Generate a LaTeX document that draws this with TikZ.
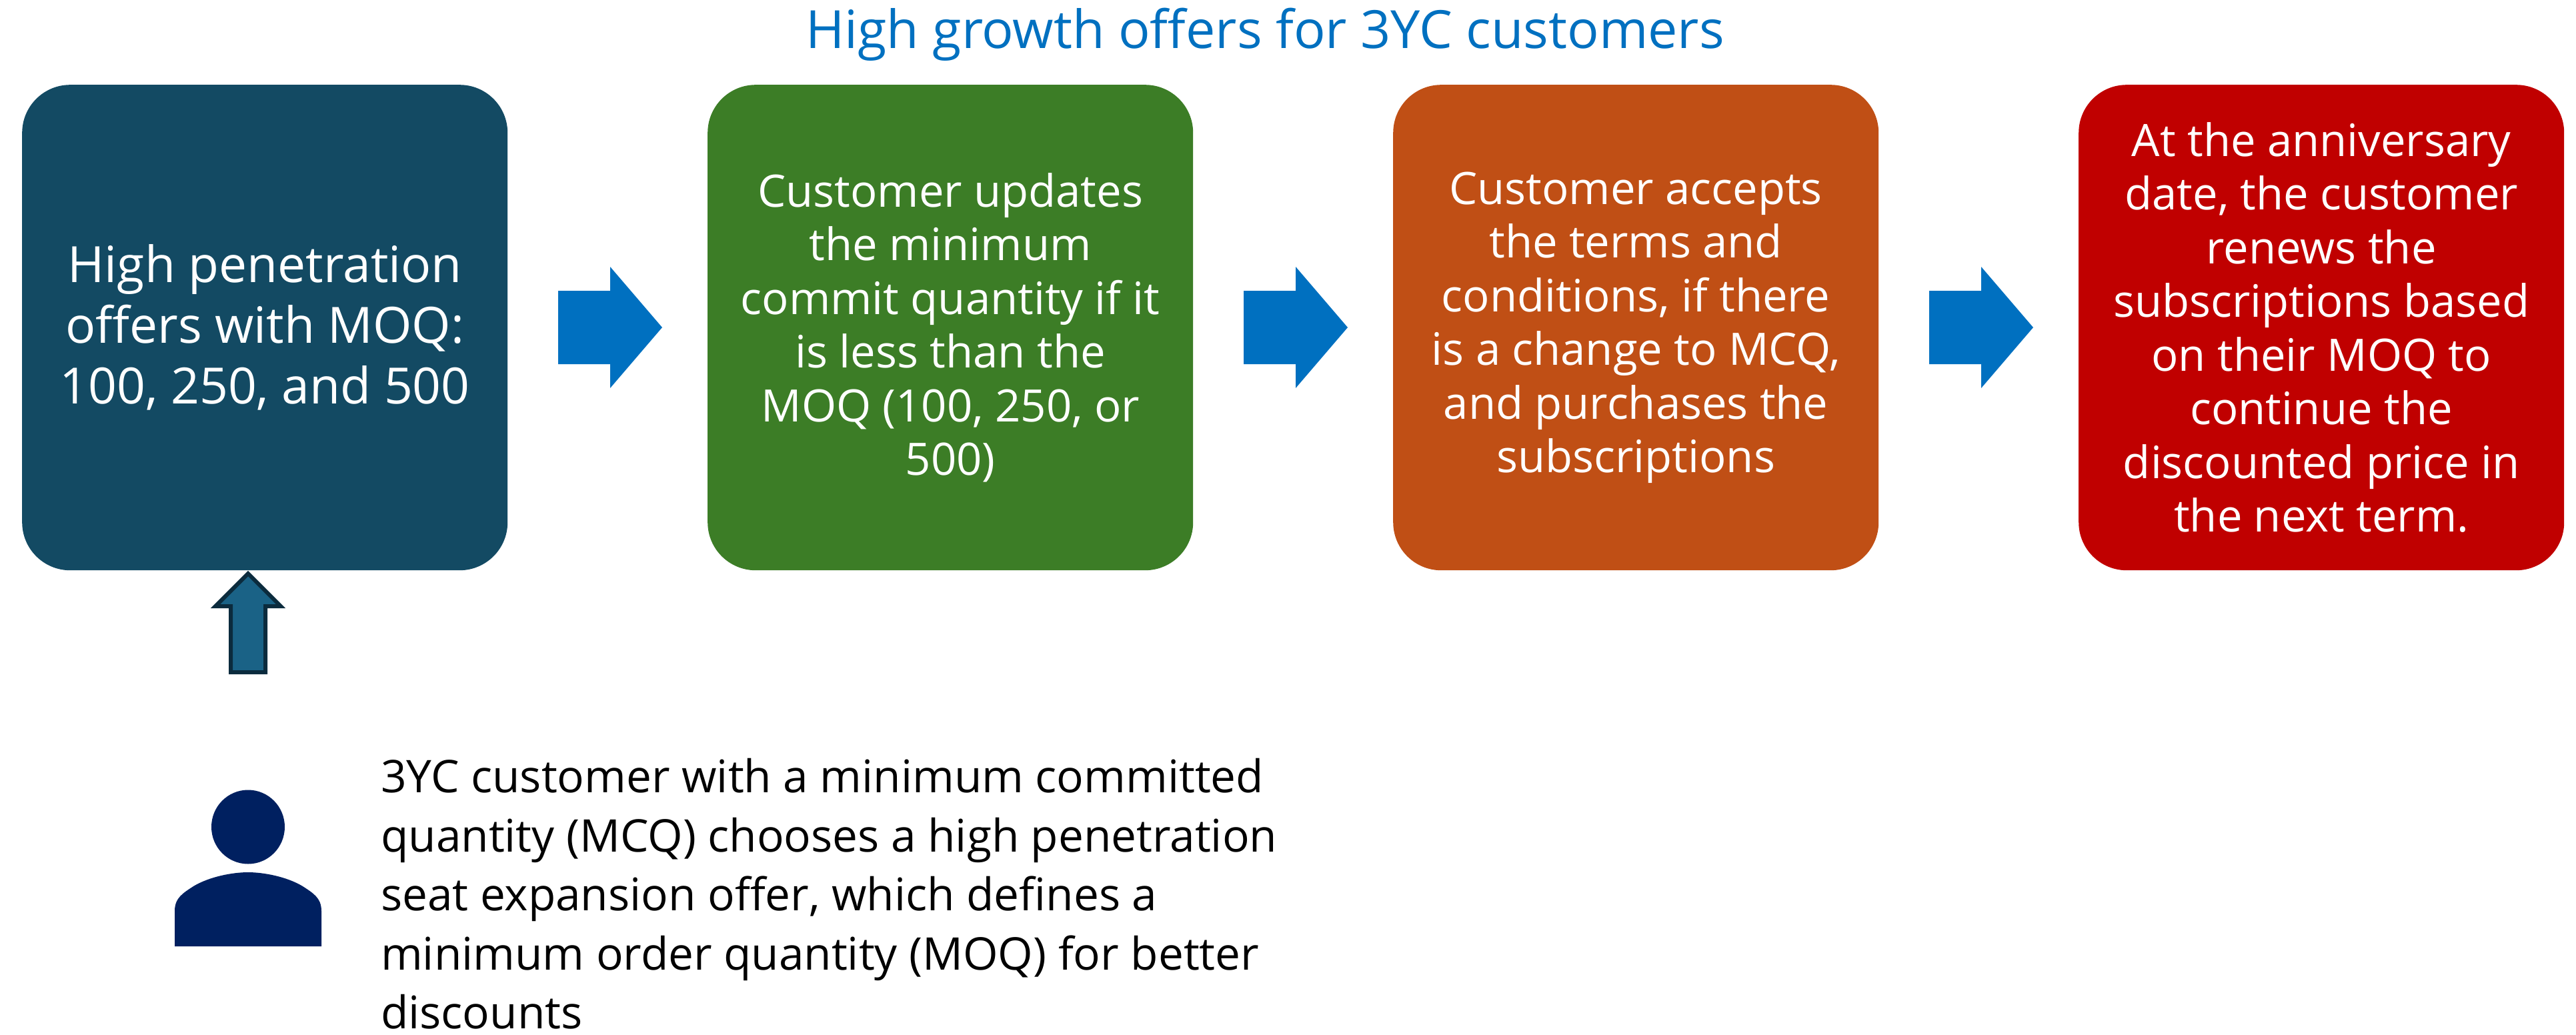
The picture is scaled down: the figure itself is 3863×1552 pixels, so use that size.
\documentclass[tikz,border=0pt]{standalone}
\usepackage{fontspec}
\setmainfont{Open Sans}
\definecolor{cbA}{HTML}{134A63}
\definecolor{cbB}{HTML}{3C7D26}
\definecolor{cbC}{HTML}{C04F15}
\definecolor{cbD}{HTML}{C00000}
\definecolor{cblue}{HTML}{0070C0}
\definecolor{cperson}{HTML}{002060}
\definecolor{cup}{HTML}{1A6286}
\definecolor{cupd}{HTML}{0B2B3D}
\tikzset{
  x=1pt,y=-1pt,
  stepbox/.style={rounded corners=72pt,minimum width=728pt,minimum height=728pt,inner sep=0pt,align=center,text=white,anchor=north west,font=\fontsize{67}{80.5}\selectfont},
  flowarrow/.style={fill=cblue,draw=none},
  uparrow/.style={fill=cup,draw=cupd,line width=6pt,miter limit=10},
}
\begin{document}
\begin{tikzpicture}
\useasboundingbox (0,0) rectangle (3863,1552);
\node[text=cblue,font=\fontsize{79}{90}\selectfont] (title) at (1897,52) {High growth offers for 3YC customers};
\node[stepbox,fill=cbA,font=\fontsize{75}{91}\selectfont] (a) at (33,127) {High penetration\\offers with MOQ:\\100, 250, and 500};
\node[stepbox,fill=cbB] (b) at (1061,127) {Customer updates\\the minimum\\commit quantity if it\\is less than the\\MOQ (100, 250, or\\500)};
\node[stepbox,fill=cbC] (c) at (2089,127) {Customer accepts\\the terms and\\conditions, if there\\is a change to MCQ,\\and purchases the\\subscriptions};
\node[stepbox,fill=cbD] (d) at (3117,127) {At the anniversary\\date, the customer\\renews the\\subscriptions based\\on their MOQ to\\continue the\\discounted price in\\the next term.};
\foreach \nm/\dx in {ab/0,bc/1028,cd/2056}{
  \fill[flowarrow,shift={(\dx,0)}] (837,436) -- (915,436) -- (915,400) -- (993,491) -- (915,582) -- (915,546) -- (837,546) -- cycle;
}
\draw[uparrow] (346,1008) -- (346,909) -- (323,909) -- (372,860) -- (421,909) -- (398,909) -- (398,1008) -- cycle;
\fill[cperson] (372,1240) ellipse (55 and 55.5);
\fill[cperson] (262,1419) -- (262,1366) .. controls (262,1346) and (275,1339) .. (290,1329) .. controls (315,1314) and (350,1308) .. (372,1308) .. controls (394,1308) and (429,1314) .. (454,1329) .. controls (469,1339) and (482,1346) .. (482,1366) -- (482,1419) -- cycle;
\node[anchor=north west,inner sep=0pt,align=left,font=\fontsize{67.5}{88.5}\selectfont] (note) at (571,1137) {3YC customer with a minimum committed\\quantity (MCQ) chooses a high penetration\\seat expansion offer, which defines a\\minimum order quantity (MOQ) for better\\discounts};
\end{tikzpicture}
\end{document}
